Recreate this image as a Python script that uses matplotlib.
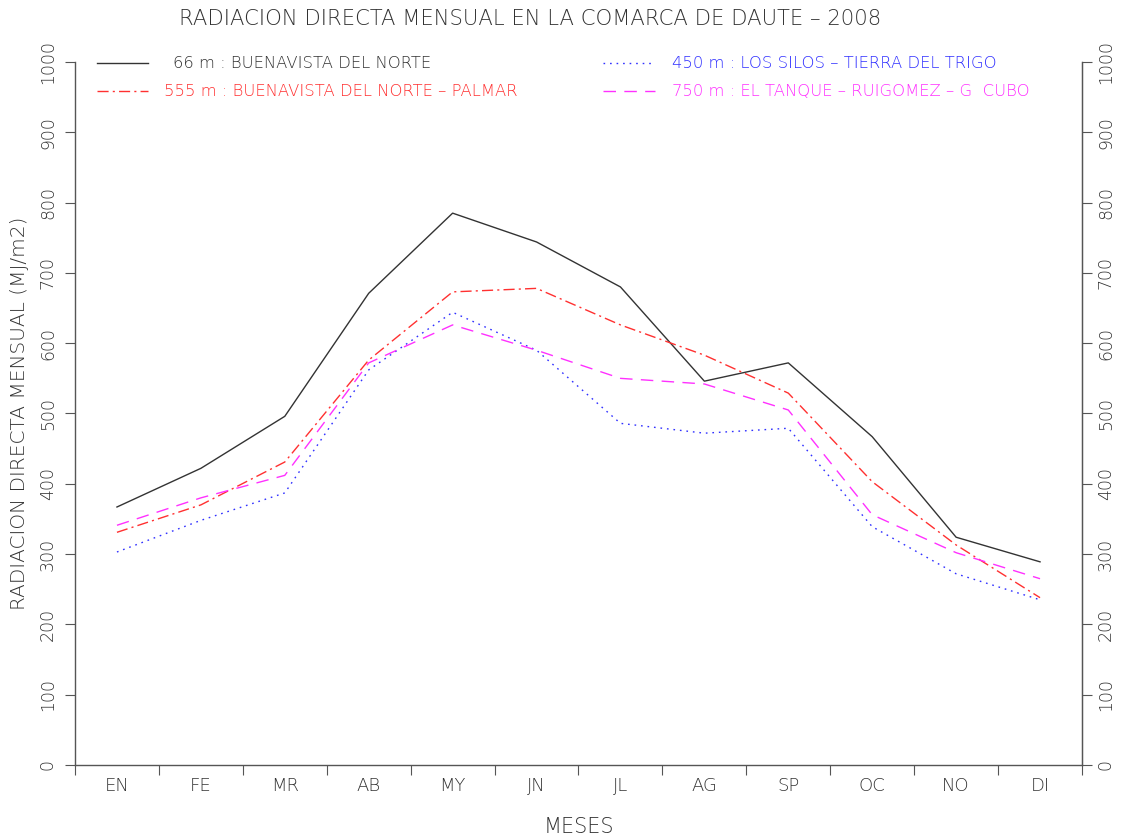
import matplotlib
matplotlib.use("Agg")
import matplotlib.pyplot as plt
from matplotlib.lines import Line2D

months = ["EN", "FE", "MR", "AB", "MY", "JN", "JL", "AG", "SP", "OC", "NO", "DI"]
s66 = [367, 422, 496, 671, 785, 744, 680, 546, 572, 467, 324, 289]
s555 = [331, 370, 431, 576, 673, 678, 626, 583, 529, 403, 313, 238]
s450 = [303, 348, 387, 562, 644, 590, 486, 472, 479, 339, 272, 235]
s750 = [341, 380, 412, 572, 626, 590, 550, 542, 505, 356, 302, 265]
labels = ["66 m : BUENAVISTA DEL NORTE",
          "555 m : BUENAVISTA DEL NORTE \u2013 PALMAR",
          "450 m : LOS SILOS \u2013 TIERRA DEL TRIGO",
          "750 m : EL TANQUE \u2013 RUIGOMEZ \u2013 G  CUBO"]
yticks = list(range(0, 1001, 100))

FONT = "DejaVu Sans"
TXT = "#333333"
AXC = "#555555"
plt.rcParams["font.family"] = [FONT]

W, H = 1122, 840
PT = 72 / 100  # points per pixel
fig = plt.figure(figsize=(W / 100, H / 100), dpi=100)
L, R, T, B = 75, 1082, 62, 765
ax = fig.add_axes([L / W, 1 - B / H, (R - L) / W, (B - T) / H])

x = list(range(1, 13))
colors = ["#333333", "#ff3030", "#3030ff", "#ff30ff"]
styles = [dict(linestyle="-"),
          dict(linestyle=(0, (8, 3, 1.5, 3))),
          dict(linestyle=(0, (1.2, 3.5))),
          dict(linestyle=(0, (9, 6)))]
series = [s66, s555, s450, s750]
for s, c, st in zip(series, colors, styles):
    ax.plot(x, s, color=c, linewidth=1.0, **st)

ax.set_xlim(0.5, 12.5)
ax.set_ylim(0, 1000)
ax.spines["top"].set_visible(False)
for sp in ["left", "right", "bottom"]:
    ax.spines[sp].set_color(AXC)
    ax.spines[sp].set_linewidth(1.0)

# x ticks at boundaries, labels at month centres
ax.set_xticks([i + 0.5 for i in range(0, 13)])
ax.set_xticklabels([])
ax.set_xticks(x, minor=True)
ax.set_xticklabels(months, minor=True, fontsize=13, color=TXT, fontweight="light")
ax.tick_params(axis="x", which="major", direction="out", length=10 * PT, color=AXC)
ax.tick_params(axis="x", which="minor", length=0, pad=12 * PT)

ax.set_yticks(yticks)
ax.set_yticklabels([str(v) for v in yticks], rotation=90, va="center",
                   fontsize=12.5, color=TXT, fontweight="light")
ax.tick_params(axis="y", direction="out", length=10 * PT, color=AXC, pad=8 * PT)

ax2 = ax.twinx()
ax2.set_ylim(0, 1000)
ax2.set_yticks(yticks)
ax2.set_yticklabels([str(v) for v in yticks], rotation=90, va="center",
                    fontsize=12.5, color=TXT, fontweight="light")
ax2.tick_params(axis="y", direction="out", length=10 * PT, color=AXC, pad=5 * PT)
for sp in ["top", "left", "bottom"]:
    ax2.spines[sp].set_visible(False)
ax2.spines["right"].set_color(AXC)

fig.text(20 / W, 1 - 413 / H, "RADIACION DIRECTA MENSUAL (MJ/m2)", rotation=90,
         ha="center", va="center", fontsize=14.5, color=TXT, fontweight="light")
fig.text(579 / W, 1 - 827 / H, "MESES", ha="center", va="center",
         fontsize=15, color=TXT, fontweight="light")
fig.text(530 / W, 1 - 19 / H, "RADIACION DIRECTA MENSUAL EN LA COMARCA DE DAUTE \u2013 2008",
         ha="center", va="center", fontsize=15.2, color=TXT, fontweight="light")

# legend drawn manually
leg = [(97, 148, 63, 173), (97, 148, 91, 164), (603, 655, 63, 672), (603, 655, 91, 672)]
for i, (x0, x1, yy, tx) in enumerate(leg):
    fig.add_artist(Line2D([x0 / W, x1 / W], [1 - yy / H, 1 - yy / H],
                          transform=fig.transFigure, color=colors[i], linewidth=1.0,
                          **styles[i]))
    fig.text(tx / W, 1 - yy / H, labels[i], ha="left", va="center", fontsize=11.8,
             color=colors[i] if i else TXT, fontweight="light")

fig.savefig("out.png", dpi=100)
